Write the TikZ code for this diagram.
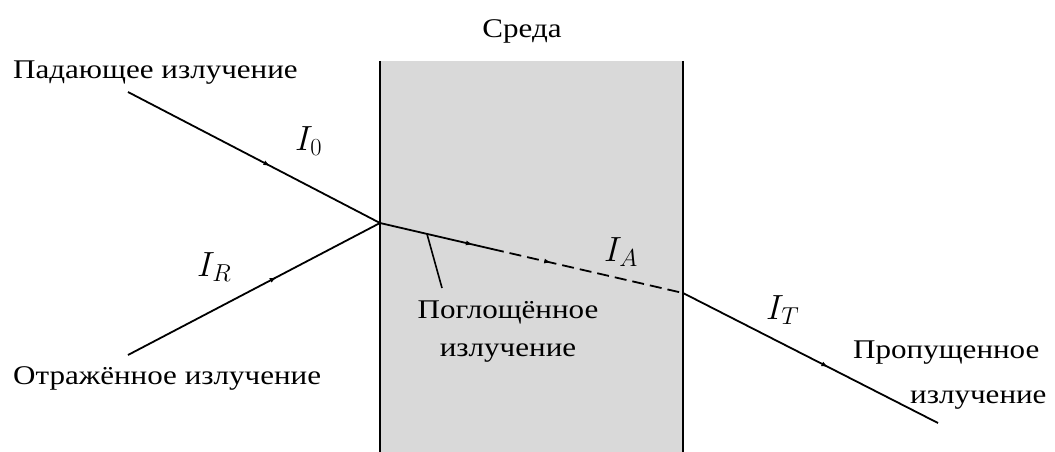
\RequirePackage{fix-cm}
\documentclass[tikz,border=0pt]{standalone}
\usepackage{fontspec}
\setmainfont{Liberation Serif}
\newfontfamily\widefont[FakeStretch=1.15]{Liberation Serif}
\usetikzlibrary{decorations.markings,arrows.meta}
\begin{document}
\begin{tikzpicture}[x=1pt,y=-1pt,
  ray/.style={line width=1.8pt,black},
  midarrow/.style={postaction={decorate},decoration={markings,
     mark=at position #1 with {\arrow{Latex[length=7pt,width=5pt]}}}},
  lbl/.style={font=\widefont\fontsize{27}{30}\selectfont,inner sep=0pt},
  mathlbl/.style={font=\fontsize{35}{38}\selectfont,inner sep=0pt,anchor=base west}]
\useasboundingbox (0,0) rectangle (1055,452);
% medium
\fill[gray!30] (380,61) rectangle (683,452);
\draw[line width=2.4pt] (380,61) -- (380,452);
\draw[line width=2.4pt] (683,61) -- (683,452);
\node[lbl,anchor=base] (sreda) at (522,38) {Среда};
% points
\coordinate (inS) at (128,92);
\coordinate (hit) at (380,223);
\coordinate (reS) at (128,355);
\coordinate (mid) at (492,249);
\coordinate (out) at (683,293);
\coordinate (trE) at (938,423);
\coordinate (ptr) at (427,234);
\coordinate (ptrE) at (442,288);
% rays
\draw[ray,midarrow=0.565] (inS) -- (hit);
\draw[ray,midarrow=0.59] (reS) -- (hit);
\draw[ray,midarrow=0.83] (hit) -- (mid);
\draw[ray,dash pattern=on 12pt off 6pt,midarrow=0.31] (mid) -- (out);
\draw[ray,midarrow=0.57] (out) -- (trE);
\draw[line width=1.6pt] (ptr) -- (ptrE);
% labels
\node[mathlbl] (i0) at (295,150) {$I_0$};
\node[mathlbl] (ir) at (197,276) {$I_R$};
\node[mathlbl] (ia) at (604,261) {$I_A$};
\node[mathlbl] (it) at (766,319) {$I_T$};
\node[lbl,anchor=base west] (pad) at (13,78) {Падающее излучение};
\node[lbl,anchor=base west] (otr) at (13,384) {Отражённое излучение};
\node[lbl,anchor=base] (pogl1) at (508,318) {Поглощённое};
\node[lbl,anchor=base] (pogl2) at (508,356) {излучение};
\node[lbl,anchor=base west] (prop1) at (853,358) {Пропущенное};
\node[lbl,anchor=base west] (prop2) at (910,403) {излучение};
\end{tikzpicture}
\end{document}
